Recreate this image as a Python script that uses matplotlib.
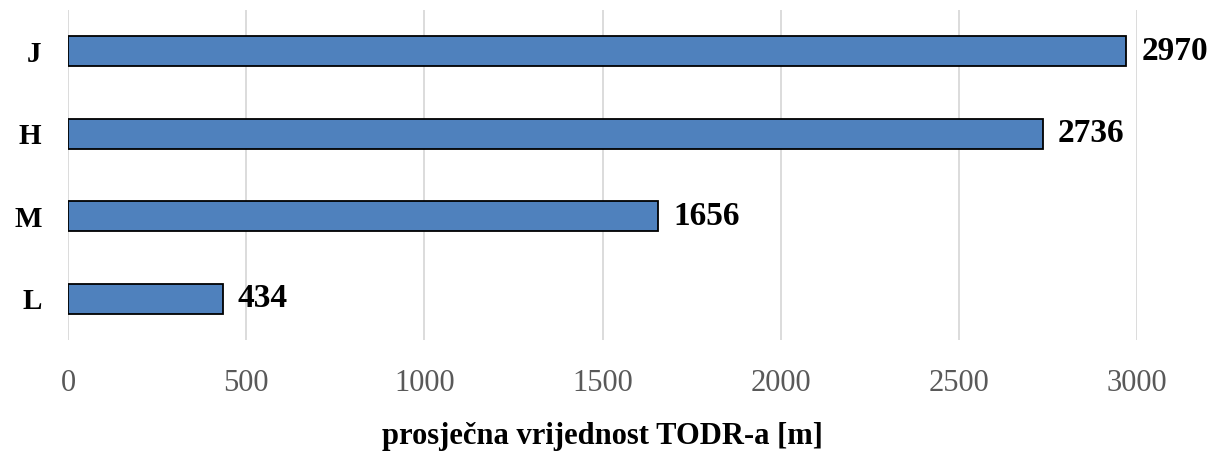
import matplotlib
matplotlib.use("Agg")
import matplotlib.pyplot as plt

categories = ["L", "M", "H", "J"]
values = [434, 1656, 2736, 2970]
xticks = [0, 500, 1000, 1500, 2000, 2500, 3000]
xlabel = "prosječna vrijednost TODR-a [m]"

plt.rcParams["font.family"] = ["Liberation Serif", "DejaVu Serif"]

fig = plt.figure(figsize=(12.11, 4.54), dpi=100)
ax = fig.add_axes([68/1211, 1 - 340/454, (1137-68)/1211, 330/454])

ypos = range(len(categories))
ax.barh(ypos, values, height=0.36, color="#4f81bd", edgecolor="black", linewidth=1.3, zorder=3)

for y, v in zip(ypos, values):
    ax.text(v + 42, y, str(v), va="center", ha="left", fontsize=24, fontweight="bold", clip_on=False)

ax.set_xlim(0, 3000)
ax.set_ylim(-0.5, len(categories) - 0.5)
ax.set_yticks(list(ypos))
ax.set_yticklabels(categories, fontsize=21, fontweight="bold")
ax.set_xticks(xticks)
ax.set_xticklabels([str(t) for t in xticks], fontsize=22, color="#595959")
ax.tick_params(axis="y", length=0, pad=19)
ax.tick_params(axis="x", length=0, pad=21)
ax.grid(axis="x", color="#d9d9d9", linewidth=1.3, zorder=0)
for s in ax.spines.values():
    s.set_visible(False)

ax.set_xlabel(xlabel, fontsize=22, fontweight="bold", labelpad=17)

fig.savefig("out.png", dpi=100)
